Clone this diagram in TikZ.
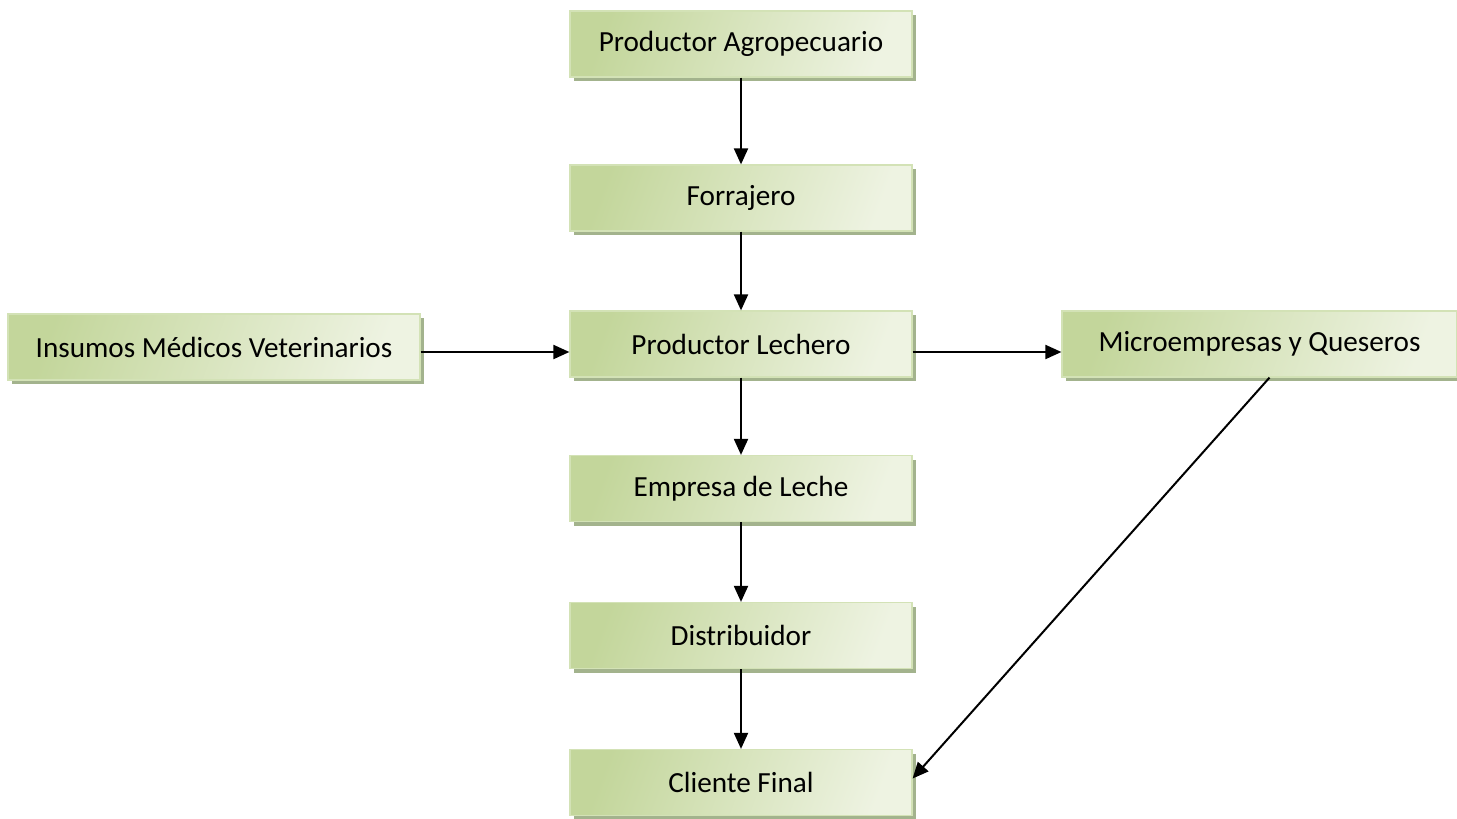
\documentclass[tikz,border=0pt]{standalone}
\usepackage{fontspec}
\setmainfont{Carlito}
\usetikzlibrary{arrows.meta,shadows}

\definecolor{boxdark}{HTML}{C3D69B}
\definecolor{boxlight}{HTML}{EEF3E2}
\definecolor{boxline}{HTML}{D3E2B6}
\definecolor{boxshadow}{HTML}{A3B38D}

\tikzset{
  eslabon/.style={rectangle, draw=boxline, line width=.6pt,
    left color=boxdark, right color=boxlight, shading angle=70,
    drop shadow={shadow xshift=2pt, shadow yshift=-2pt, fill=boxshadow, opacity=1},
    minimum width=171pt, minimum height=33pt, inner sep=0pt,
    font=\fontsize{14.6}{17}\selectfont},
  flujo/.style={-{Triangle[length=8pt,width=7pt]}, line width=1pt}
}

\begin{document}
\begin{tikzpicture}[x=0.5pt,y=-0.5pt]
   \useasboundingbox (0,0) rectangle (1457,819);

   \node[eslabon] (agro) at (741,44) {Productor Agropecuario};
   \node[eslabon] (forr) at (741,198) {Forrajero};
   \node[eslabon] (lech) at (741,344) {Productor Lechero};
   \node[eslabon] (emp) at (741,488.5) {Empresa de Leche};
   \node[eslabon] (dist) at (741,635.5) {Distribuidor};
   \node[eslabon] (cli) at (741,782.5) {Cliente Final};

   \node[eslabon, minimum width=206pt] (insu) at (214,347) {Insumos Médicos Veterinarios};
   \node[eslabon, minimum width=197.5pt] (micro) at (1259.5,344) {Microempresas y Queseros};

   \path[flujo] (agro) edge (forr);
   \path[flujo] (forr) edge (lech);
   \path[flujo] (lech) edge (emp);
   \path[flujo] (emp) edge (dist);
   \path[flujo] (dist) edge (cli);

   \path[flujo] ([yshift=-2.5pt]insu.east) edge ([yshift=-4pt]lech.west);
   \path[flujo] ([yshift=-4pt]lech.east) edge ([yshift=-4pt]micro.west);
   \path[flujo] ([xshift=5pt]micro.south) edge ([yshift=2pt]cli.east);
\end{tikzpicture}
\end{document}
